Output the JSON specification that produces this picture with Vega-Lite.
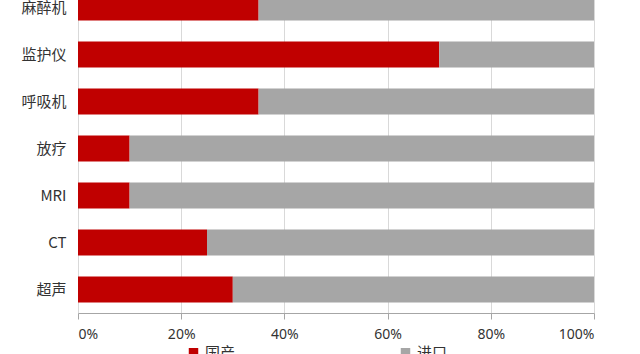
{
  "$schema": "https://vega.github.io/schema/vega-lite/v6.json",
  "width": 516,
  "height": 329,
  "autosize": {"type": "none"},
  "padding": {"left": 78, "top": -16, "right": 46, "bottom": 41},
  "background": "white",
  "data": {
    "values": [
      {"设备": "麻醉机", "类型": "国产", "份额": 0.35, "序": 1},
      {"设备": "麻醉机", "类型": "进口", "份额": 0.65, "序": 2},
      {"设备": "监护仪", "类型": "国产", "份额": 0.70, "序": 1},
      {"设备": "监护仪", "类型": "进口", "份额": 0.30, "序": 2},
      {"设备": "呼吸机", "类型": "国产", "份额": 0.35, "序": 1},
      {"设备": "呼吸机", "类型": "进口", "份额": 0.65, "序": 2},
      {"设备": "放疗", "类型": "国产", "份额": 0.10, "序": 1},
      {"设备": "放疗", "类型": "进口", "份额": 0.90, "序": 2},
      {"设备": "MRI", "类型": "国产", "份额": 0.10, "序": 1},
      {"设备": "MRI", "类型": "进口", "份额": 0.90, "序": 2},
      {"设备": "CT", "类型": "国产", "份额": 0.25, "序": 1},
      {"设备": "CT", "类型": "进口", "份额": 0.75, "序": 2},
      {"设备": "超声", "类型": "国产", "份额": 0.30, "序": 1},
      {"设备": "超声", "类型": "进口", "份额": 0.70, "序": 2}
    ]
  },
  "mark": {"type": "bar"},
  "encoding": {
    "y": {
      "field": "设备",
      "type": "nominal",
      "sort": ["麻醉机", "监护仪", "呼吸机", "放疗", "MRI", "CT", "超声"],
      "scale": {"paddingInner": 0.45, "paddingOuter": 0.225},
      "axis": {
        "title": null,
        "domain": false,
        "ticks": false,
        "labelPadding": 12,
        "labelFont": "Noto Sans CJK SC",
        "labelFontSize": 15,
        "labelColor": "#333333"
      }
    },
    "x": {
      "field": "份额",
      "type": "quantitative",
      "stack": "zero",
      "scale": {"domain": [0, 1], "nice": false},
      "axis": {
        "title": null,
        "format": "%",
        "values": [0, 0.2, 0.4, 0.6, 0.8, 1],
        "grid": true,
        "gridColor": "#D9D9D9",
        "domainColor": "#A6A6A6",
        "tickColor": "#A6A6A6",
        "tickSize": 6,
        "labelPadding": 8,
        "labelFont": "Noto Sans",
        "labelFontSize": 14,
        "labelColor": "#333333"
      }
    },
    "color": {
      "field": "类型",
      "type": "nominal",
      "scale": {"domain": ["国产", "进口"], "range": ["#C00000", "#A6A6A6"]},
      "legend": {
        "title": null,
        "orient": "none",
        "direction": "horizontal",
        "legendX": 108,
        "legendY": 361,
        "symbolType": "square",
        "symbolSize": 90,
        "symbolStrokeWidth": 0,
        "columnPadding": 162,
        "labelFont": "Noto Sans CJK SC",
        "labelFontSize": 15,
        "labelColor": "#333333"
      }
    },
    "order": {"field": "序", "type": "quantitative"}
  },
  "config": {"view": {"stroke": null}}
}
